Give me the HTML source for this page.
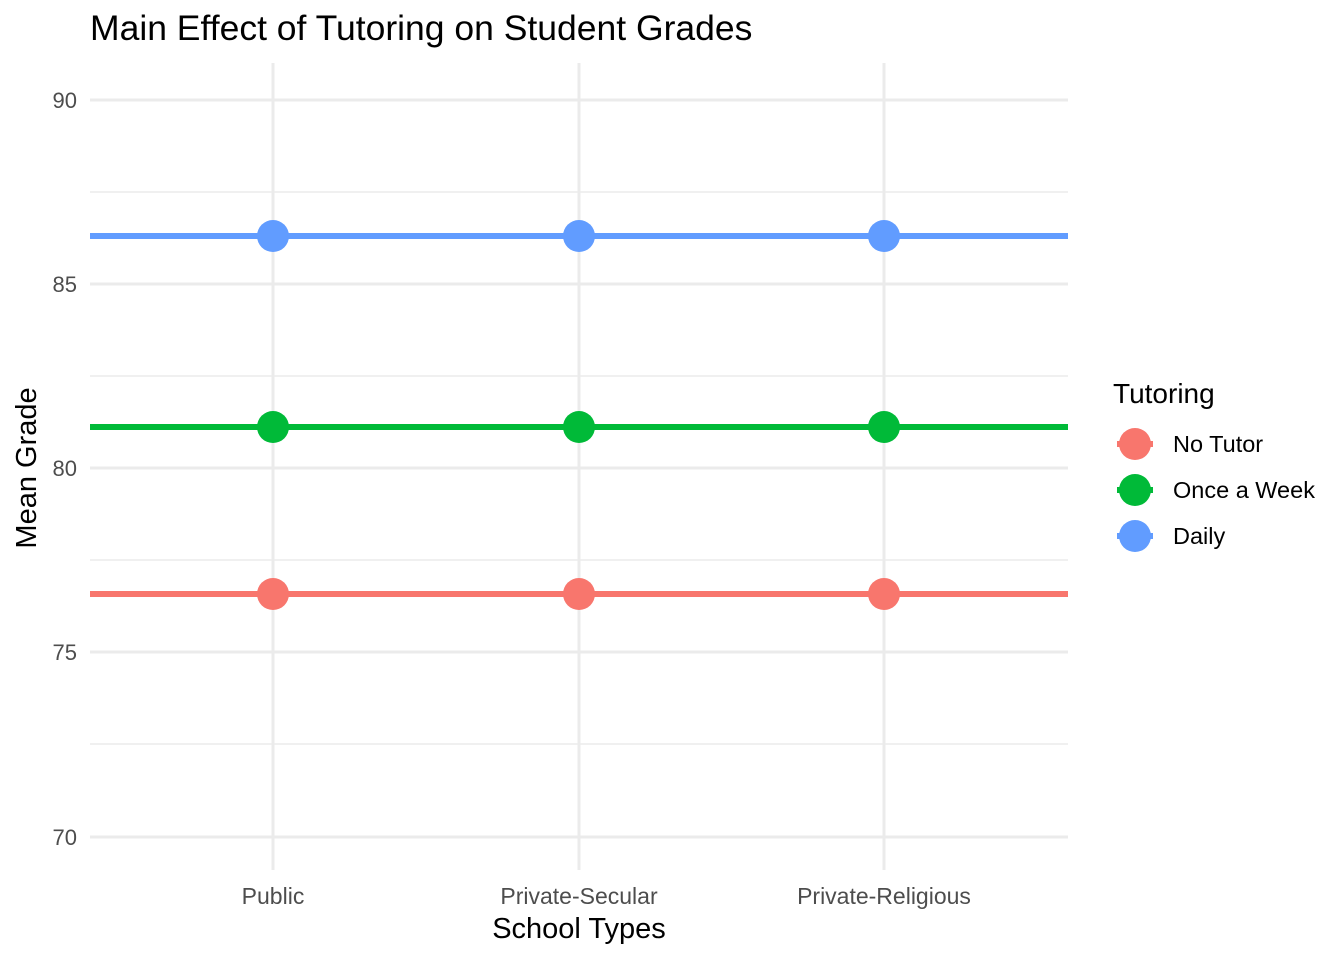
<!DOCTYPE html>
<html><head><meta charset="utf-8"><style>body{margin:0;background:#fff}svg{display:block}</style></head>
<body>
<svg width="1344" height="960" xmlns="http://www.w3.org/2000/svg" font-family="Liberation Sans, sans-serif">
<rect width="1344" height="960" fill="#fff"/>
<g stroke="#ebebeb" stroke-width="1.5">
<line x1="90" x2="1068" y1="192" y2="192"/><line x1="90" x2="1068" y1="376" y2="376"/>
<line x1="90" x2="1068" y1="560" y2="560"/><line x1="90" x2="1068" y1="744" y2="744"/>
</g>
<g stroke="#ebebeb" stroke-width="3">
<line x1="90" x2="1068" y1="100" y2="100"/><line x1="90" x2="1068" y1="284" y2="284"/>
<line x1="90" x2="1068" y1="468" y2="468"/><line x1="90" x2="1068" y1="652" y2="652"/>
<line x1="90" x2="1068" y1="837" y2="837"/>
<line x1="273" x2="273" y1="63" y2="870"/><line x1="579" x2="579" y1="63" y2="870"/><line x1="884" x2="884" y1="63" y2="870"/>
</g>
<line x1="90" x2="1068" y1="236" y2="236" stroke="#619cff" stroke-width="6"/>
<line x1="90" x2="1068" y1="427" y2="427" stroke="#00ba38" stroke-width="6"/>
<line x1="90" x2="1068" y1="594" y2="594" stroke="#f8766d" stroke-width="6"/>
<g fill="#619cff"><circle cx="273" cy="236" r="16"/><circle cx="579" cy="236" r="16"/><circle cx="884" cy="236" r="16"/></g>
<g fill="#00ba38"><circle cx="273" cy="427" r="16"/><circle cx="579" cy="427" r="16"/><circle cx="884" cy="427" r="16"/></g>
<g fill="#f8766d"><circle cx="273" cy="594" r="16"/><circle cx="579" cy="594" r="16"/><circle cx="884" cy="594" r="16"/></g>
<g fill="#4d4d4d" font-size="22" text-anchor="end">
<text x="77" y="108">90</text><text x="77" y="292">85</text><text x="77" y="476">80</text><text x="77" y="660">75</text><text x="77" y="845">70</text>
</g>
<g fill="#4d4d4d" font-size="23" text-anchor="middle">
<text x="273" y="904">Public</text><text x="579" y="904">Private-Secular</text><text x="884" y="904">Private-Religious</text>
</g>
<text x="579" y="938" font-size="29" text-anchor="middle">School Types</text>
<text transform="translate(36,468) rotate(-90)" font-size="29" text-anchor="middle">Mean Grade</text>
<text x="90" y="40" font-size="35.5">Main Effect of Tutoring on Student Grades</text>
<text x="1113" y="403" font-size="28">Tutoring</text>
<line x1="1117" x2="1153" y1="444" y2="444" stroke="#f8766d" stroke-width="6"/><circle cx="1135" cy="444" r="16" fill="#f8766d"/>
<line x1="1117" x2="1153" y1="490" y2="490" stroke="#00ba38" stroke-width="6"/><circle cx="1135" cy="490" r="16" fill="#00ba38"/>
<line x1="1117" x2="1153" y1="536" y2="536" stroke="#619cff" stroke-width="6"/><circle cx="1135" cy="536" r="16" fill="#619cff"/>
<g font-size="23.5"><text x="1173" y="452">No Tutor</text><text x="1173" y="498">Once a Week</text><text x="1173" y="544">Daily</text></g>
</svg>
</body></html>
